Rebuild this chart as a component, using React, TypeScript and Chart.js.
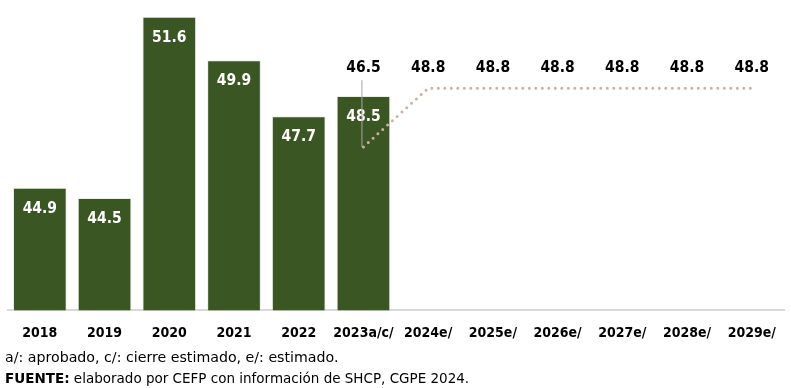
import React, { useEffect, useRef } from "react";
import { Chart, registerables } from "chart.js";

Chart.register(...registerables);

const categories = ["2018", "2019", "2020", "2021", "2022", "2023a/c/", "2024e/", "2025e/", "2026e/", "2027e/", "2028e/", "2029e/"];
const barValues: (number | null)[] = [44.9, 44.5, 51.6, 49.9, 47.7, 48.5, null, null, null, null, null, null];
const lineValues: (number | null)[] = [null, null, null, null, null, 46.5, 48.8, 48.8, 48.8, 48.8, 48.8, 48.8];
const noteLine1 = "a/: aprobado, c/: cierre estimado, e/: estimado.";
const sourceLabel = "FUENTE:";
const sourceText = " elaborado por CEFP con información de SHCP, CGPE 2024.";

const GREEN = "#3a5623";
const DOT = "#c9b3a2";
const NARROW = "'DejaVu Sans Condensed', 'DejaVu Sans', sans-serif";
const LABEL_FONT = `bold 15.5px ${NARROW}`;

const labelPlugin = {
  id: "valueLabels",
  afterDatasetsDraw(chart: any) {
    const ctx = chart.ctx;
    const y = chart.scales.y;
    ctx.save();
    ctx.textAlign = "center";
    ctx.textBaseline = "middle";
    ctx.font = LABEL_FONT;
    const barMeta = chart.getDatasetMeta(0);
    barMeta.data.forEach((el: any, i: number) => {
      const v = barValues[i];
      if (v == null) return;
      ctx.fillStyle = "#ffffff";
      ctx.fillText(v.toFixed(1), el.x, el.y + 21);
    });
    const lineMeta = chart.getDatasetMeta(1);
    const nums = lineValues.filter((v) => v != null) as number[];
    const top = y.getPixelForValue(Math.max(...nums));
    const labelY = top - 20;
    lineMeta.data.forEach((el: any, i: number) => {
      const v = lineValues[i];
      if (v == null) return;
      ctx.fillStyle = "#000000";
      ctx.fillText(v.toFixed(1), el.x, labelY);
      if (el.y - labelY > 30) {
        ctx.strokeStyle = "#a6a6a6";
        ctx.lineWidth = 1;
        ctx.beginPath();
        ctx.moveTo(el.x - 1.5, labelY + 12);
        ctx.lineTo(el.x - 1.5, el.y);
        ctx.stroke();
      }
    });
    ctx.restore();
  },
};

export default function App() {
  const ref = useRef<HTMLCanvasElement>(null);
  useEffect(() => {
    if (!ref.current) return;
    const chart = new Chart(ref.current, {
      type: "bar",
      data: {
        labels: categories,
        datasets: [
          {
            type: "bar",
            data: barValues,
            backgroundColor: GREEN,
            borderColor: "rgba(220,225,215,0.6)",
            borderWidth: 1,
            categoryPercentage: 1,
            barPercentage: 0.83,
            order: 2,
          } as any,
          {
            type: "line",
            data: lineValues,
            borderColor: DOT,
            borderWidth: 3,
            borderDash: [0, 6.5],
            borderCapStyle: "round",
            pointRadius: 0,
            spanGaps: false,
            order: 1,
          } as any,
        ],
      },
      options: {
        animation: false,
        responsive: false,
        maintainAspectRatio: false,
        layout: { padding: { left: 7.5, right: 3.5, top: 0, bottom: 31 } },
        plugins: { legend: { display: false }, tooltip: { enabled: false } },
        scales: {
          y: { display: false, min: 40.1, max: 52.26 },
          x: {
            grid: { display: false, drawTicks: false },
            border: { display: true, color: "#d9d9d9", width: 2 },
            ticks: {
              color: "#000",
              padding: 15,
              maxRotation: 0,
              autoSkip: false,
              font: { family: NARROW, weight: "bold", size: 14 },
            },
          },
        },
      },
      plugins: [labelPlugin],
    });
    return () => chart.destroy();
  }, []);

  return (
    <div style={{ position: "fixed", left: 0, top: 0, width: 791, height: 388, background: "#fff" }}>
      <canvas ref={ref} width={791} height={388} style={{ position: "absolute", left: 0, top: 0 }} />
      <div
        style={{
          position: "absolute",
          left: 5,
          top: 347,
          fontFamily: "'DejaVu Sans', sans-serif",
          lineHeight: "21px",
          color: "#000",
          whiteSpace: "nowrap",
        }}
      >
        <div style={{ fontSize: 14.2 }}>{noteLine1}</div>
        <div style={{ fontSize: 13.5 }}>
          <b>{sourceLabel}</b>
          {sourceText}
        </div>
      </div>
    </div>
  );
}
